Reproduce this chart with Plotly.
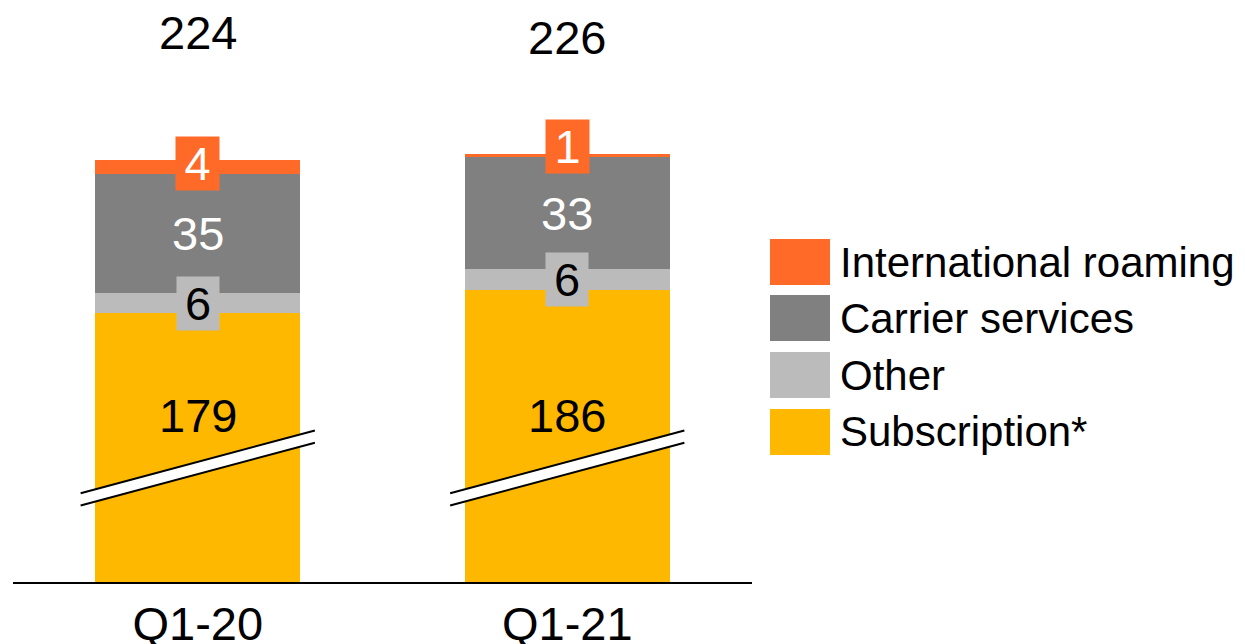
import plotly.graph_objects as go

# Revenue breakdown per quarter (stacked, bottom to top)
quarters = ["Q1-20", "Q1-21"]
subscription = [179, 186]
other = [6, 6]
carrier_services = [35, 33]
international_roaming = [4, 1]

series_names = ["International roaming", "Carrier services", "Other", "Subscription*"]

# Colours
C_ROAM = "#FF6A28"
C_CARRIER = "#808080"
C_OTHER = "#BBBBBB"
C_SUB = "#FFB800"
FONT = "Liberation Sans, Arial, sans-serif"

# Canvas / plot-area geometry (pixels)
W, H = 1245, 644
M_L, M_R, M_T, M_B = 13, 493, 10, 62
PLOT_W = W - M_L - M_R
PLOT_H = H - M_T - M_B
PX_PER_UNIT = 3.40
Y_MIN = 100  # axis is broken: the subscription bars start below this value
Y_MAX = Y_MIN + PLOT_H / PX_PER_UNIT


def px_to_paper_x(px):
    return (px - M_L) / PLOT_W


def px_to_paper_y(py):
    return (H - M_B - py) / PLOT_H


fig = go.Figure()
stack = [
    ("Subscription*", subscription, C_SUB),
    ("Other", other, C_OTHER),
    ("Carrier services", carrier_services, C_CARRIER),
    ("International roaming", international_roaming, C_ROAM),
]
for name, vals, col in stack:
    fig.add_trace(go.Bar(
        x=quarters, y=vals, name=name, marker=dict(color=col, line=dict(width=0)),
        showlegend=False, hoverinfo="x+y+name",
    ))

annotations = []
shapes = []

for i, q in enumerate(quarters):
    s, o, c, r = subscription[i], other[i], carrier_services[i], international_roaming[i]

    # subscription value, shown inside the visible part of the bar
    annotations.append(dict(x=q, y=px_to_paper_y(415), xref="x", yref="paper",
                            text=str(s), showarrow=False, yanchor="middle",
                            font=dict(family=FONT, size=47, color="black")))
    # other: grey tag
    annotations.append(dict(x=q, y=s + o / 2, xref="x", yref="y", text=str(o),
                            showarrow=False, bgcolor=C_OTHER, width=40, height=51,
                            yanchor="middle", font=dict(family=FONT, size=47, color="black")))
    # carrier services
    annotations.append(dict(x=q, y=s + o + c / 2, xref="x", yref="y", text=str(c),
                            showarrow=False, yanchor="middle",
                            font=dict(family=FONT, size=47, color="white")))
    # roaming: orange tag sitting on top of the carrier segment
    annotations.append(dict(x=q, y=s + o + c, xref="x", yref="y", yshift=10.5,
                            text=str(r), showarrow=False, bgcolor=C_ROAM,
                            width=41, height=51, yanchor="middle",
                            font=dict(family=FONT, size=47, color="white")))

# totals above the bars
total_label_px = [32.5, 37.5]
for i, q in enumerate(quarters):
    total = subscription[i] + other[i] + carrier_services[i] + international_roaming[i]
    annotations.append(dict(x=q, y=px_to_paper_y(total_label_px[i]), xref="x", yref="paper",
                            text=str(total), showarrow=False, yanchor="middle",
                            font=dict(family=FONT, size=47, color="black")))

# axis-break marks across each bar
BREAK_HALF_X = 0.317
BREAK_Y_L, BREAK_Y_R = 124.3, 142.75   # centre line of the break
BREAK_GAP = 1.8                         # half the gap, in axis units
for i in range(len(quarters)):
    x0, x1 = i - BREAK_HALF_X, i + BREAK_HALF_X
    path = (f"M {x0},{BREAK_Y_L + BREAK_GAP} L {x1},{BREAK_Y_R + BREAK_GAP} "
            f"L {x1},{BREAK_Y_R - BREAK_GAP} L {x0},{BREAK_Y_L - BREAK_GAP} Z")
    shapes.append(dict(type="path", path=path, xref="x", yref="y",
                       fillcolor="white", line=dict(width=0), layer="above"))
    for sgn in (1, -1):
        shapes.append(dict(type="line", xref="x", yref="y",
                           x0=x0, y0=BREAK_Y_L + sgn * BREAK_GAP,
                           x1=x1, y1=BREAK_Y_R + sgn * BREAK_GAP,
                           line=dict(color="black", width=2), layer="above"))

# legend: large swatches with labels
legend_colors = [C_ROAM, C_CARRIER, C_OTHER, C_SUB]
legend_top_px = [239, 295, 352, 409]
SW_X0, SW_X1, SW_H = 770, 830, 46
for name, col, top in zip(series_names, legend_colors, legend_top_px):
    shapes.append(dict(type="rect", xref="paper", yref="paper",
                       x0=px_to_paper_x(SW_X0), x1=px_to_paper_x(SW_X1),
                       y0=px_to_paper_y(top + SW_H), y1=px_to_paper_y(top),
                       fillcolor=col, line=dict(width=0)))
    annotations.append(dict(x=px_to_paper_x(838), y=px_to_paper_y(top + SW_H / 2),
                            xref="paper", yref="paper", text=name, showarrow=False,
                            xanchor="left", yanchor="middle",
                            font=dict(family=FONT, size=42, color="black")))

fig.update_layout(
    width=W, height=H,
    margin=dict(l=M_L, r=M_R, t=M_T, b=M_B, pad=0, autoexpand=False),
    barmode="stack", bargap=0.445,
    plot_bgcolor="white", paper_bgcolor="white",
    annotations=annotations, shapes=shapes,
    xaxis=dict(showline=True, linecolor="black", linewidth=2, ticks="",
               showgrid=False, zeroline=False, automargin=False,
               tickfont=dict(family=FONT, size=47, color="black")),
    yaxis=dict(range=[Y_MIN, Y_MAX], visible=False, showgrid=False, zeroline=False,
               automargin=False),
    showlegend=False,
)

fig.write_html("out.html")
